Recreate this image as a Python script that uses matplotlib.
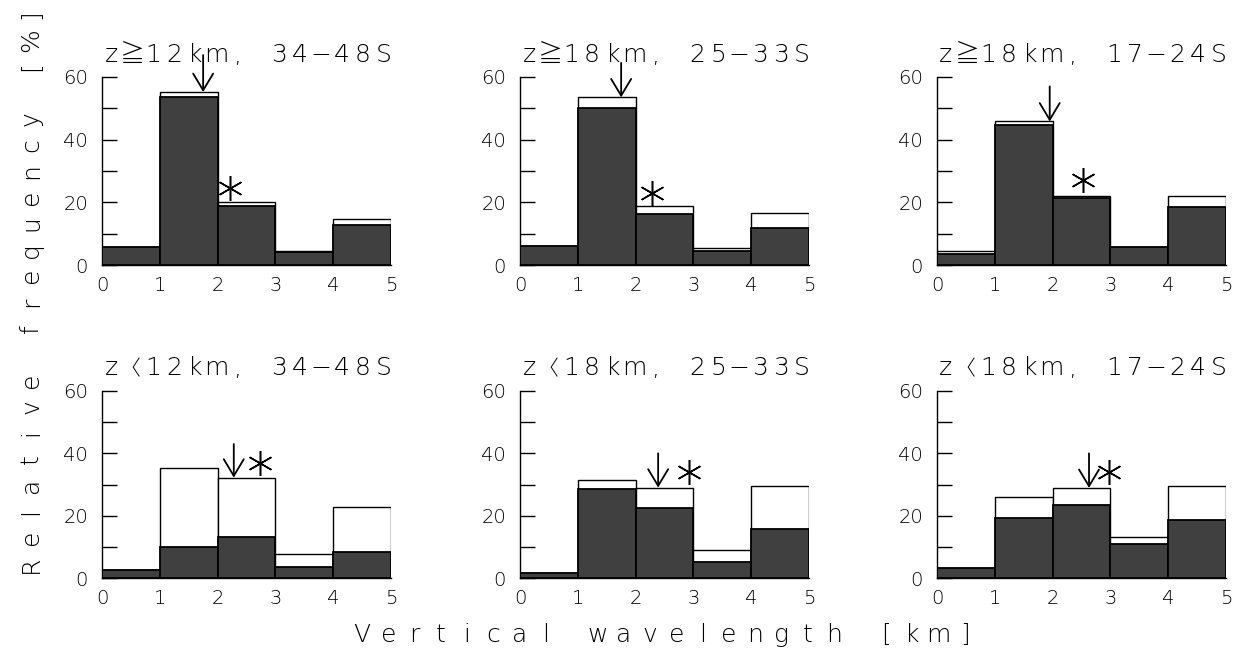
import matplotlib
matplotlib.use('Agg')
import matplotlib.pyplot as plt
from matplotlib.ticker import MultipleLocator

W, H = 1239, 656

# wavelength bins [km] and axes ticks
bins = [0, 1, 2, 3, 4]
xticks = [0, 1, 2, 3, 4, 5]
yticks = [0, 20, 40, 60]

titles = ["z≧12km, 34−48S", "z≧18km, 25−33S", "z≧18km, 17−24S",
          "z〈12km, 34−48S", "z〈18km, 25−33S", "z〈18km, 17−24S"]

# relative frequency [%]: total (white) and subset (dark)
total = [[5.6, 55.2, 20.0, 4.6, 14.8],
         [6.2, 53.5, 18.7, 5.3, 16.5],
         [4.6, 45.8, 21.9, 5.9, 21.9],
         [2.7, 35.2, 32.2, 7.8, 22.9],
         [1.6, 31.4, 29.0, 9.0, 29.5],
         [3.2, 25.9, 28.9, 13.1, 29.4]]
dark = [[5.6, 53.7, 18.9, 4.3, 12.7],
        [6.2, 50.1, 16.2, 4.6, 11.9],
        [3.4, 44.6, 21.3, 5.9, 18.5],
        [2.7, 9.8, 13.1, 3.5, 8.3],
        [1.6, 28.5, 22.4, 5.1, 15.8],
        [3.2, 19.4, 23.5, 10.9, 18.7]]

# arrow (mean) and asterisk markers
arrow_x = [1.75, 1.75, 1.95, 2.28, 2.39, 2.63]
arrow_top = [67, 64.5, 57, 43, 40, 40]
arrow_tip = [55.2, 53.5, 45.8, 32.2, 29.0, 28.9]
star_x = [2.21, 2.28, 2.53, 2.73, 2.93, 2.98]
star_y = [24.5, 22.9, 27.2, 36.8, 34.1, 34.1]

FONT = ['DejaVu Sans', 'Noto Sans CJK JP']
plt.rcParams['font.family'] = FONT
plt.rcParams['font.weight'] = 'light'

fig = plt.figure(figsize=(W / 100, H / 100), dpi=100)

# the CJK bracket is a full-width glyph: slightly smaller and nudged left
nudge = {'〈': -2}
resize = {'〈': 15}


def spaced(s, x0, y0, pitch, size, vertical=False):
    # place characters one by one with wide, even spacing (pixel coords, y from top)
    for i, ch in enumerate(s):
        if ch == ' ':
            continue
        if vertical:
            x, y, rot = x0, y0 - i * pitch, 90
        else:
            x, y, rot = x0 + i * pitch + nudge.get(ch, 0), y0, 0
        fig.text(x / W, 1 - y / H, ch, fontsize=resize.get(ch, size),
                 ha='center', va='baseline', rotation=rot, rotation_mode='anchor',
                 family=FONT, fontweight='light', color='k')


lefts = [102, 520, 937]
rows = [(77, 265), (391, 578)]
aw = 289

for k in range(6):
    r, c = divmod(k, 3)
    top, bot = rows[r]
    ax = fig.add_axes([lefts[c] / W, 1 - bot / H, aw / W, (bot - top) / H])
    ax.bar(bins, total[k], width=1, align='edge', color='white',
           edgecolor='k', lw=1.0, zorder=2)
    ax.bar(bins, dark[k], width=1, align='edge', color='#404040',
           edgecolor='k', lw=1.3, zorder=3)
    ax.annotate('', xy=(arrow_x[k], arrow_tip[k]), xytext=(arrow_x[k], arrow_top[k]),
                arrowprops=dict(arrowstyle='->, head_length=0.6, head_width=0.36',
                                mutation_scale=20, lw=1.3, color='k',
                                shrinkA=0, shrinkB=0),
                annotation_clip=False, zorder=5)
    ax.plot(star_x[k], star_y[k], marker=(6, 2, 0), ms=18, mew=1.1,
            color='k', clip_on=False, zorder=5)
    ax.set_xlim(0, 5)
    ax.set_ylim(0, 60)
    ax.set_xticks(xticks)
    ax.set_yticks(yticks)
    ax.yaxis.set_minor_locator(MultipleLocator(10))
    ax.tick_params(axis='y', which='both', direction='in', length=11, width=1,
                   pad=10, labelsize=14)
    ax.tick_params(axis='x', length=0, pad=8, labelsize=14)
    for sp in ['top', 'right']:
        ax.spines[sp].set_visible(False)
    for sp in ['left', 'bottom']:
        ax.spines[sp].set_linewidth(1.0)
    spaced(titles[k], lefts[c] + 9, [62, 375][r], 21, 18)

spaced("Vertical wavelength [km]", 362, 642, 26.2, 18)
spaced("Relative frequency [%]", 38, 564, 26.2, 18, vertical=True)

fig.savefig('out.png', dpi=100)
